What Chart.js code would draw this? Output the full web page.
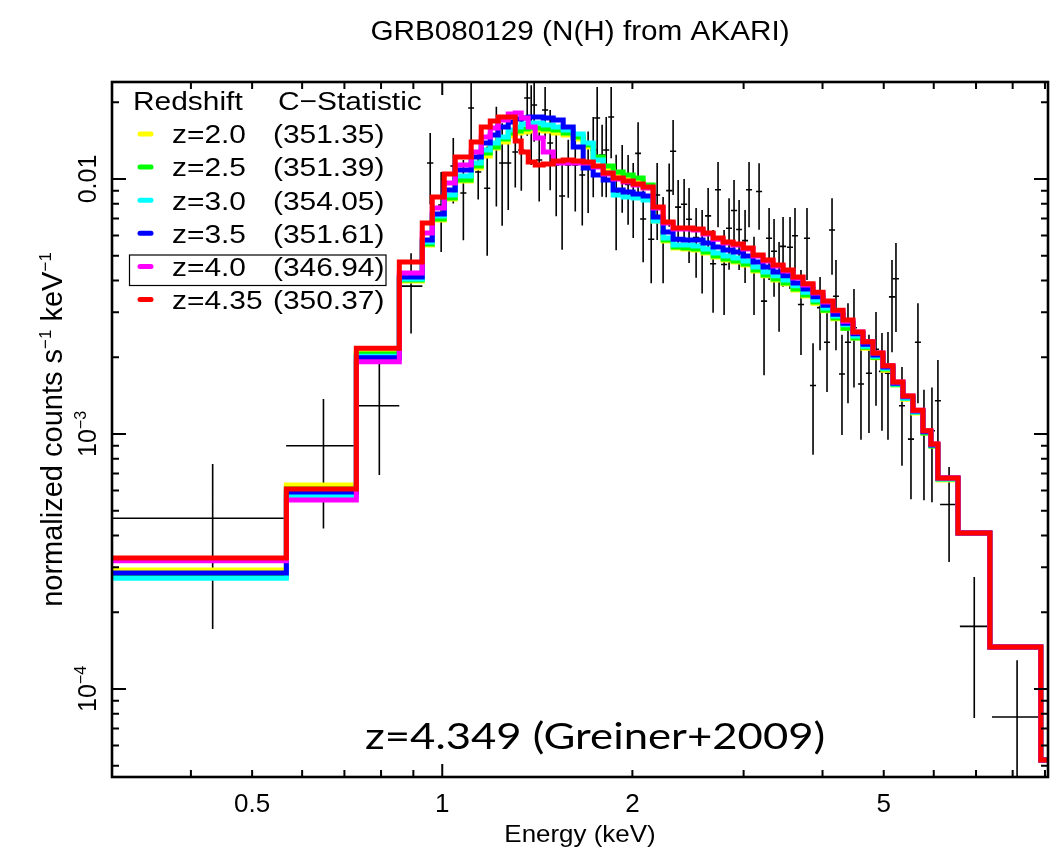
<!DOCTYPE html>
<html>
<head>
<meta charset="utf-8">
<script src="https://cdn.jsdelivr.net/npm/chart.js@4.4.1/dist/chart.umd.min.js"></script>
<style>
  html, body { margin: 0; padding: 0; background: #fff; }
  #wrap { width: 1056px; height: 851px; }
</style>
</head>
<body>
<div id="wrap"><canvas id="spec" width="1056" height="851"></canvas></div>
<script>
// model bin edges in keV (shared by every redshift model)
const modelEdges = [
  0.3, 0.5665, 0.7311, 0.8551, 0.9297, 0.9642, 1.0073, 1.0485, 1.1113, 1.1527,
  1.1912, 1.2264, 1.2719, 1.3048, 1.3335, 1.3680, 1.4034, 1.4449, 1.4986, 1.5541,
  1.6118, 1.6716, 1.7336, 1.7979, 1.8646, 1.9338, 2.0055, 2.0799, 2.1571, 2.2371,
  2.3201, 2.4062, 2.4954, 2.5880, 2.6840, 2.7836, 2.8869, 2.9940, 3.1051, 3.2203,
  3.3398, 3.4637, 3.5922, 3.7255, 3.8637, 4.0071, 4.1558, 4.3100, 4.4699, 4.6357,
  4.8077, 4.9861, 5.1711, 5.3630, 5.5620, 5.7684, 5.9388, 6.0922, 6.5551, 7.3632,
  8.8650, 9.43
];

// folded model, normalized counts s^-1 keV^-1, one value per bin
const modelZ20 = [
  2.93e-4, 6.31e-4, 2.10e-3, 3.98e-3, 5.51e-3, 6.91e-3, 8.35e-3, 9.82e-3, 1.104e-2, 1.231e-2,
  1.323e-2, 1.397e-2, 1.474e-2, 1.515e-2, 1.529e-2, 1.542e-2, 1.556e-2, 1.542e-2, 1.515e-2, 1.488e-2,
  1.435e-2, 1.335e-2, 1.198e-2, 1.085e-2, 1.037e-2, 1.009e-2, 9.82e-3, 9.22e-3, 6.84e-3, 5.71e-3,
  5.36e-3, 5.31e-3, 5.27e-3, 5.13e-3, 4.94e-3, 4.81e-3, 4.73e-3, 4.60e-3, 4.36e-3, 4.17e-3,
  4.02e-3, 3.88e-3, 3.67e-3, 3.48e-3, 3.26e-3, 3.04e-3, 2.83e-3, 2.60e-3, 2.38e-3, 2.17e-3,
  1.99e-3, 1.78e-3, 1.56e-3, 1.37e-3, 1.21e-3, 1.01e-3, 8.97e-4, 6.60e-4, 4.09e-4, 1.46e-4,
  5.27e-5
];
const modelZ25 = [
  2.77e-4, 6.08e-4, 2.06e-3, 4.02e-3, 5.56e-3, 6.97e-3, 8.42e-3, 9.91e-3, 1.124e-2, 1.265e-2,
  1.335e-2, 1.435e-2, 1.515e-2, 1.542e-2, 1.571e-2, 1.585e-2, 1.585e-2, 1.571e-2, 1.556e-2, 1.515e-2,
  1.461e-2, 1.360e-2, 1.220e-2, 1.124e-2, 1.065e-2, 1.037e-2, 1.009e-2, 9.47e-3, 6.91e-3, 5.76e-3,
  5.41e-3, 5.36e-3, 5.31e-3, 5.17e-3, 4.99e-3, 4.86e-3, 4.77e-3, 4.64e-3, 4.40e-3, 4.20e-3,
  4.05e-3, 3.91e-3, 3.70e-3, 3.51e-3, 3.29e-3, 3.06e-3, 2.85e-3, 2.60e-3, 2.38e-3, 2.19e-3,
  2.00e-3, 1.80e-3, 1.56e-3, 1.38e-3, 1.22e-3, 1.01e-3, 8.97e-4, 6.66e-4, 4.09e-4, 1.46e-4,
  5.27e-5
];
const modelZ30 = [
  2.72e-4, 5.71e-4, 2.02e-3, 4.05e-3, 5.66e-3, 7.16e-3, 8.66e-3, 1.027e-2, 1.155e-2, 1.299e-2,
  1.384e-2, 1.461e-2, 1.556e-2, 1.599e-2, 1.643e-2, 1.658e-2, 1.658e-2, 1.628e-2, 1.599e-2, 1.556e-2,
  1.501e-2, 1.384e-2, 1.187e-2, 1.056e-2, 8.66e-3, 8.50e-3, 8.42e-3, 8.27e-3, 6.84e-3, 5.87e-3,
  5.51e-3, 5.51e-3, 5.46e-3, 5.31e-3, 5.13e-3, 4.99e-3, 4.90e-3, 4.77e-3, 4.52e-3, 4.32e-3,
  4.17e-3, 4.02e-3, 3.81e-3, 3.60e-3, 3.35e-3, 3.12e-3, 2.90e-3, 2.68e-3, 2.42e-3, 2.21e-3,
  2.02e-3, 1.81e-3, 1.57e-3, 1.38e-3, 1.22e-3, 1.02e-3, 9.06e-4, 6.66e-4, 4.09e-4, 1.46e-4,
  5.27e-5
];
const modelZ35 = [
  2.85e-4, 5.92e-4, 1.99e-3, 4.13e-3, 5.76e-3, 7.29e-3, 9.05e-3, 1.085e-2, 1.220e-2, 1.384e-2,
  1.488e-2, 1.599e-2, 1.673e-2, 1.720e-2, 1.735e-2, 1.751e-2, 1.751e-2, 1.735e-2, 1.704e-2, 1.599e-2,
  1.335e-2, 1.104e-2, 1.037e-2, 9.91e-3, 9.05e-3, 8.89e-3, 8.73e-3, 8.58e-3, 7.10e-3, 6.20e-3,
  5.81e-3, 5.76e-3, 5.76e-3, 5.61e-3, 5.41e-3, 5.27e-3, 5.17e-3, 4.99e-3, 4.73e-3, 4.52e-3,
  4.32e-3, 4.17e-3, 3.91e-3, 3.70e-3, 3.45e-3, 3.20e-3, 2.95e-3, 2.72e-3, 2.47e-3, 2.25e-3,
  2.04e-3, 1.83e-3, 1.58e-3, 1.40e-3, 1.23e-3, 1.02e-3, 9.06e-4, 6.72e-4, 4.09e-4, 1.46e-4,
  5.27e-5
];
const modelZ40 = [
  3.18e-4, 5.51e-4, 1.92e-3, 4.28e-3, 6.14e-3, 7.70e-3, 9.64e-3, 1.135e-2, 1.276e-2, 1.461e-2,
  1.585e-2, 1.704e-2, 1.799e-2, 1.815e-2, 1.735e-2, 1.599e-2, 1.448e-2, 1.276e-2, 1.155e-2, 1.155e-2,
  1.155e-2, 1.155e-2, 1.114e-2, 1.046e-2, 1.000e-2, 9.73e-3, 9.47e-3, 9.22e-3, 7.70e-3, 6.72e-3,
  6.36e-3, 6.36e-3, 6.31e-3, 6.09e-3, 5.81e-3, 5.61e-3, 5.51e-3, 5.31e-3, 4.99e-3, 4.77e-3,
  4.56e-3, 4.36e-3, 4.09e-3, 3.84e-3, 3.57e-3, 3.29e-3, 3.04e-3, 2.77e-3, 2.51e-3, 2.30e-3,
  2.08e-3, 1.85e-3, 1.60e-3, 1.41e-3, 1.24e-3, 1.03e-3, 9.14e-4, 6.72e-4, 4.09e-4, 1.46e-4,
  5.27e-5
];
const modelZ435 = [
  3.26e-4, 6.08e-4, 2.17e-3, 4.73e-3, 6.72e-3, 8.50e-3, 1.046e-2, 1.220e-2, 1.397e-2, 1.599e-2,
  1.689e-2, 1.751e-2, 1.751e-2, 1.409e-2, 1.276e-2, 1.166e-2, 1.135e-2, 1.145e-2, 1.176e-2, 1.187e-2,
  1.176e-2, 1.166e-2, 1.124e-2, 1.056e-2, 1.009e-2, 9.82e-3, 9.56e-3, 9.30e-3, 7.77e-3, 6.78e-3,
  6.42e-3, 6.42e-3, 6.36e-3, 6.14e-3, 5.87e-3, 5.66e-3, 5.56e-3, 5.36e-3, 5.03e-3, 4.81e-3,
  4.60e-3, 4.40e-3, 4.13e-3, 3.88e-3, 3.60e-3, 3.32e-3, 3.06e-3, 2.80e-3, 2.51e-3, 2.30e-3,
  2.08e-3, 1.85e-3, 1.60e-3, 1.41e-3, 1.24e-3, 1.03e-3, 9.14e-4, 6.72e-4, 4.09e-4, 1.46e-4,
  5.27e-5
];

const models = [modelZ20, modelZ25, modelZ30, modelZ35, modelZ40, modelZ435];
const modelColors = ['#ffff00', '#00ff00', '#00ffff', '#0000ff', '#ff00ff', '#ff0000'];
const legendZ = ['z=2.0', 'z=2.5', 'z=3.0', 'z=3.5', 'z=4.0', 'z=4.35'];
const legendCstat = ['(351.35)', '(351.39)', '(354.05)', '(351.61)', '(346.94)', '(350.37)'];

// observed spectrum: bin centre and half width (keV), rate and 1-sigma error
const dataE = [
  0.433, 0.6485, 0.795, 0.8925,
  0.957, 0.996, 1.041, 1.080, 1.111, 1.140, 1.178, 1.218, 1.244, 1.272,
  1.305, 1.334, 1.363, 1.383, 1.398, 1.424, 1.455, 1.482, 1.515, 1.548,
  1.583, 1.624, 1.666, 1.702, 1.734, 1.759, 1.791, 1.818, 1.851, 1.885,
  1.927, 1.969, 2.006, 2.042, 2.080, 2.142, 2.189, 2.237, 2.287, 2.320,
  2.363, 2.415, 2.459, 2.523, 2.579, 2.636, 2.684, 2.733, 2.794, 2.845,
  2.897, 2.951, 3.016, 3.060, 3.116, 3.174, 3.232, 3.292, 3.352, 3.414,
  3.464, 3.553, 3.618, 3.698, 3.780, 3.864, 3.964, 4.066, 4.141, 4.201,
  4.294, 4.389, 4.486, 4.602, 4.738, 4.861, 4.968, 5.078, 5.153, 5.228,
  5.344, 5.522, 5.664, 5.790, 5.961, 6.092,
  6.345, 6.955, 8.13
];
const dataDE = [
  0.133, 0.0825, 0.06, 0.0375,
  0.011, 0.011, 0.011, 0.012, 0.012, 0.013, 0.013, 0.013, 0.014, 0.014,
  0.014, 0.015, 0.015, 0.015, 0.015, 0.016, 0.016, 0.016, 0.017, 0.017,
  0.017, 0.018, 0.018, 0.019, 0.019, 0.019, 0.020, 0.020, 0.020, 0.021,
  0.021, 0.022, 0.022, 0.022, 0.023, 0.024, 0.024, 0.025, 0.025, 0.026,
  0.026, 0.027, 0.027, 0.028, 0.028, 0.029, 0.030, 0.030, 0.031, 0.031,
  0.032, 0.032, 0.033, 0.034, 0.034, 0.035, 0.036, 0.036, 0.037, 0.038,
  0.038, 0.039, 0.040, 0.041, 0.042, 0.043, 0.044, 0.045, 0.046, 0.046,
  0.047, 0.048, 0.049, 0.051, 0.052, 0.053, 0.055, 0.056, 0.057, 0.058,
  0.059, 0.061, 0.062, 0.064, 0.066, 0.067,
  0.205, 0.355, 0.71
];
const dataFlux = [
  4.67e-4, 8.99e-4, 1.29e-3, 3.80e-3,
  1.155e-2, 7.91e-3, 1.125e-2, 8.81e-3, 1.899e-2, 1.065e-2, 9.2e-3, 1.35e-2, 1.155e-2, 1.155e-2,
  1.276e-2, 1.299e-2, 2.078e-2, 1.734e-2, 1.951e-2, 1.187e-2, 1.865e-2, 1.384e-2, 1.135e-2, 8.58e-3,
  1.135e-2, 1.135e-2, 1.037e-2, 1.135e-2, 1.299e-2, 1.734e-2, 1.242e-2, 1.299e-2, 1.750e-2, 8.85e-3,
  1.048e-2, 9.51e-3, 8.71e-3, 1.26e-2, 6.97e-3, 5.80e-3, 8.66e-3, 6.2e-3, 9.0e-3, 1.285e-2,
  7.76e-3, 7.96e-3, 6.95e-3, 5.9e-3, 5.56e-3, 7.17e-3, 4.65e-3, 9.07e-3, 4.62e-3, 6.41e-3,
  7.52e-3, 6.34e-3, 5.73e-3, 9.07e-3, 4.43e-3, 8.93e-3, 3.32e-3, 5.86e-3, 5.21e-3, 4.09e-3,
  5.44e-3, 5.4e-3, 5.99e-3, 3.22e-3, 5.86e-3, 1.55e-3, 3.13e-3, 2.29e-3, 6.31e-3, 3.47e-3,
  1.72e-3, 2.29e-3, 2.61e-3, 1.57e-3, 1.73e-3, 2.15e-3, 1.76e-3, 1.73e-3, 3.45e-3, 4.06e-3,
  1.29e-3, 9.55e-4, 2.29e-3, 1.02e-3, 1.03e-3, 1.35e-3,
  5.29e-4, 1.76e-4, 7.77e-5
];
const dataErr = [
  2.95e-4, 4.73e-4, 6.0e-4, 1.32e-3,
  3.6e-3, 2.74e-3, 3.23e-3, 3.06e-3, 4.8e-3, 2.34e-3, 4.2e-3, 5.7e-3, 5.0e-3, 4.0e-3,
  3.5e-3, 4.0e-3, 6.0e-3, 6.0e-3, 5.5e-3, 3.7e-3, 4.3e-3, 4.8e-3, 4.2e-3, 3.3e-3,
  2.9e-3, 3.9e-3, 3.8e-3, 4.0e-3, 4.5e-3, 5.6e-3, 3.9e-3, 4.5e-3, 5.45e-3, 3.6e-3,
  3.1e-3, 2.9e-3, 2.84e-3, 4.1e-3, 2.25e-3, 1.9e-3, 2.9e-3, 2.3e-3, 2.5e-3, 4.2e-3,
  2.15e-3, 2.04e-3, 2.27e-3, 1.8e-3, 2.0e-3, 2.05e-3, 1.66e-3, 2.6e-3, 1.69e-3, 2.0e-3,
  2.4e-3, 1.94e-3, 1.82e-3, 2.6e-3, 1.5e-3, 2.6e-3, 1.62e-3, 1.84e-3, 1.76e-3, 1.57e-3,
  1.66e-3, 1.7e-3, 1.71e-3, 1.18e-3, 1.84e-3, 7.2e-4, 1.0e-3, 8.3e-4, 2.1e-3, 1.34e-3,
  7.3e-4, 9.7e-4, 1.09e-3, 6.2e-4, 7.2e-4, 8.6e-4, 7.3e-4, 7.8e-4, 1.36e-3, 1.55e-3,
  5.4e-4, 4.0e-4, 9.7e-4, 4.7e-4, 4.9e-4, 6.0e-4,
  2.14e-4, 9.9e-5, 5.2e-5
];

// axis ranges and labelled ticks
const xRange = [0.3, 9.1];
const yRange = [4.517e-5, 0.02401];
const xTickValues = [0.5, 1, 2, 5];
const xTickLabels = ['0.5', '1', '2', '5'];
const yTickValues = [0.01, 1e-3, 1e-4];
const yTickLabels = [['0.01', ''], ['10', '\u22123'], ['10', '\u22124']];

const SANS = '"Liberation Sans", Arial, Helvetica, sans-serif';

function stepPoints(edges, values) {
  const pts = values.map((v, i) => ({ x: edges[i], y: v }));
  pts.push({ x: edges[values.length], y: values[values.length - 1] });
  return pts;
}

function stretchText(ctx, text, x, y, sx) {
  ctx.save();
  ctx.translate(x, y);
  ctx.scale(sx, 1);
  ctx.fillText(text, 0, 0);
  ctx.restore();
}

// text made of normal and superscript runs, centred on the current origin
function drawRuns(ctx, runs, size, supSize, rise) {
  ctx.textAlign = 'left';
  ctx.textBaseline = 'alphabetic';
  let total = 0;
  runs.forEach(r => {
    ctx.font = (r.sup ? supSize : size) + 'px ' + SANS;
    r.w = ctx.measureText(r.t).width;
    total += r.w;
  });
  let x = -total / 2;
  runs.forEach(r => {
    ctx.font = (r.sup ? supSize : size) + 'px ' + SANS;
    ctx.fillText(r.t, x, r.sup ? -rise : 0);
    x += r.w;
  });
}

function logTicks(min, max) {
  const out = [];
  for (let p = Math.floor(Math.log10(min)); p <= Math.ceil(Math.log10(max)); p++) {
    for (let k = 1; k <= 9; k++) {
      const v = k * Math.pow(10, p);
      if (v >= min * 0.999 && v <= max * 1.001) out.push({ v, major: k === 1 });
    }
  }
  return out;
}

// error-bar crosses, drawn underneath the model curves
const crossPlugin = {
  id: 'crosses',
  beforeDatasetsDraw(chart) {
    const { ctx, chartArea: a, scales: { x, y } } = chart;
    ctx.save();
    ctx.beginPath();
    ctx.rect(a.left, a.top, a.right - a.left, a.bottom - a.top);
    ctx.clip();
    ctx.strokeStyle = '#000';
    ctx.lineWidth = 1.6;
    ctx.beginPath();
    dataE.forEach((e, i) => {
      const f = dataFlux[i], s = dataErr[i];
      const py = y.getPixelForValue(f);
      const px = x.getPixelForValue(e);
      ctx.moveTo(x.getPixelForValue(e - dataDE[i]), py);
      ctx.lineTo(x.getPixelForValue(e + dataDE[i]), py);
      const lo = f - s > 0 ? y.getPixelForValue(f - s) : a.bottom + 5;
      ctx.moveTo(px, y.getPixelForValue(f + s));
      ctx.lineTo(px, Math.min(lo, a.bottom + 5));
    });
    ctx.stroke();
    ctx.restore();
  }
};

// frame, inward ticks, labels, legend and annotation
const framePlugin = {
  id: 'frame',
  afterDraw(chart) {
    const { ctx, chartArea: a, scales: { x, y } } = chart;
    ctx.save();
    ctx.strokeStyle = '#000';
    ctx.fillStyle = '#000';

    ctx.lineWidth = 2;
    ctx.beginPath();
    logTicks(xRange[0], xRange[1]).forEach(t => {
      const px = x.getPixelForValue(t.v);
      const len = t.major ? 13 : 7;
      ctx.moveTo(px, a.bottom); ctx.lineTo(px, a.bottom - len);
      ctx.moveTo(px, a.top); ctx.lineTo(px, a.top + len);
    });
    logTicks(yRange[0], yRange[1]).forEach(t => {
      const py = y.getPixelForValue(t.v);
      const len = t.major ? 14 : 7;
      ctx.moveTo(a.left, py); ctx.lineTo(a.left + len, py);
      ctx.moveTo(a.right, py); ctx.lineTo(a.right - len, py);
    });
    ctx.stroke();

    ctx.lineWidth = 2.6;
    ctx.strokeRect(a.left, a.top, a.right - a.left, a.bottom - a.top);

    // x tick labels and axis title
    ctx.textAlign = 'center';
    ctx.textBaseline = 'alphabetic';
    ctx.font = '26px ' + SANS;
    xTickValues.forEach((v, i) => stretchText(ctx, xTickLabels[i], x.getPixelForValue(v), 812, 1.0));
    ctx.font = '24px ' + SANS;
    stretchText(ctx, 'Energy (keV)', (a.left + a.right) / 2, 842, 1.08);

    // y tick labels, rotated
    yTickValues.forEach((v, i) => {
      ctx.save();
      ctx.translate(96, y.getPixelForValue(v));
      ctx.rotate(-Math.PI / 2);
      const runs = [{ t: yTickLabels[i][0] }];
      if (yTickLabels[i][1]) runs.push({ t: yTickLabels[i][1], sup: true });
      drawRuns(ctx, runs, 25, 16, 10);
      ctx.restore();
    });

    // y axis title
    ctx.save();
    ctx.translate(62, (a.top + a.bottom) / 2);
    ctx.rotate(-Math.PI / 2);
    drawRuns(ctx, [
      { t: 'normalized counts s' }, { t: '\u22121', sup: true },
      { t: ' keV' }, { t: '\u22121', sup: true }
    ], 29, 17, 11);
    ctx.restore();

    // title
    ctx.textAlign = 'center';
    ctx.textBaseline = 'alphabetic';
    ctx.font = '27px ' + SANS;
    stretchText(ctx, 'GRB080129 (N(H) from AKARI)', (a.left + a.right) / 2, 40, 1.1);

    // legend
    ctx.textAlign = 'left';
    ctx.font = '26px ' + SANS;
    stretchText(ctx, 'Redshift', 133, 110, 1.15);
    stretchText(ctx, 'C\u2212Statistic', 278, 110, 1.15);
    legendZ.forEach((z, i) => {
      const base = 143.3 + i * 33.1;
      ctx.strokeStyle = modelColors[i];
      ctx.lineWidth = 5;
      ctx.lineCap = 'round';
      ctx.beginPath();
      ctx.moveTo(140, base - 9.3);
      ctx.lineTo(151, base - 9.3);
      ctx.stroke();
      ctx.fillStyle = '#000';
      stretchText(ctx, z, 172, base, 1.15);
      stretchText(ctx, legendCstat[i], 273, base, 1.15);
    });
    ctx.lineCap = 'butt';
    ctx.strokeStyle = '#000';
    ctx.lineWidth = 1.2;
    ctx.strokeRect(129.5, 255, 256.5, 30.5);

    // literature redshift
    ctx.font = '37px Lato, "Open Sans", sans-serif';
    stretchText(ctx, 'z=4.349 (Greiner+2009)', 365, 749, 1.18);

    ctx.restore();
  }
};

const datasets = models.map((vals, i) => ({
  label: legendZ[i],
  data: stepPoints(modelEdges, vals),
  borderColor: modelColors[i],
  borderWidth: 5,
  stepped: true,
  pointRadius: 0,
  fill: false,
  borderJoinStyle: 'miter',
  borderCapStyle: 'butt',
  order: models.length - i
}));

new Chart(document.getElementById('spec'), {
  type: 'line',
  data: { datasets },
  options: {
    responsive: false,
    animation: false,
    devicePixelRatio: 1,
    layout: { padding: { top: 82, right: 8, left: 0, bottom: 0 } },
    plugins: {
      legend: { display: false },
      title: { display: false },
      tooltip: { enabled: false }
    },
    scales: {
      x: {
        type: 'logarithmic', min: xRange[0], max: xRange[1],
        grid: { display: false }, border: { display: false }, ticks: { display: false },
        afterFit(s) { s.height = 74; }
      },
      y: {
        type: 'logarithmic', min: yRange[0], max: yRange[1],
        grid: { display: false }, border: { display: false }, ticks: { display: false },
        afterFit(s) { s.width = 112; }
      }
    }
  },
  plugins: [crossPlugin, framePlugin]
});
</script>
</body>
</html>
